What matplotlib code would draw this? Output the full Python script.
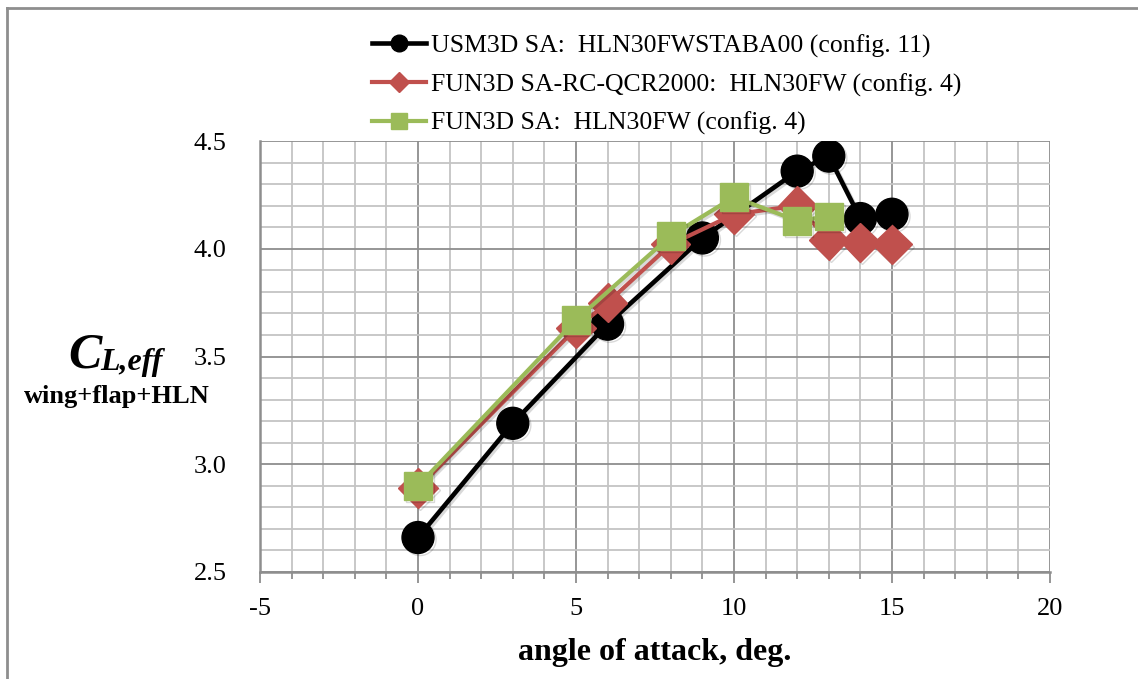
import matplotlib
matplotlib.use("Agg")
import matplotlib.pyplot as plt
import matplotlib.patheffects as pe
from matplotlib.lines import Line2D
from matplotlib.ticker import MultipleLocator

# lift coefficient vs angle of attack
usm3d_alpha = [0, 3, 6, 9, 12, 13, 14, 15]
usm3d_cl = [2.66, 3.19, 3.65, 4.05, 4.36, 4.43, 4.14, 4.16]

qcr_alpha = [0, 5, 6, 8, 10, 12, 13, 14, 15]
qcr_cl = [2.89, 3.63, 3.75, 4.02, 4.16, 4.20, 4.04, 4.03, 4.02]

sa_alpha = [0, 5, 8, 10, 12, 13]
sa_cl = [2.90, 3.67, 4.06, 4.24, 4.13, 4.15]

labels = [
    "USM3D SA:  HLN30FWSTABA00 (config. 11)",
    "FUN3D SA-RC-QCR2000:  HLN30FW (config. 4)",
    "FUN3D SA:  HLN30FW (config. 4)",
]

plt.rcParams['font.family'] = ['Liberation Serif', 'DejaVu Serif']
plt.rcParams['axes.unicode_minus'] = False

fig = plt.figure(figsize=(11.38, 6.79), dpi=100)
ax = fig.add_axes([260 / 1138, 1 - 572 / 679, 790 / 1138, 431 / 679])

shadow = [pe.SimpleLineShadow(offset=(1.5, -1.5), alpha=0.15), pe.Normal()]

ax.plot(usm3d_alpha, usm3d_cl, color='black', lw=3.3, marker='o', ms=23,
        zorder=3, path_effects=shadow)
ax.plot(qcr_alpha, qcr_cl, color='#c0504d', lw=3, marker='D', ms=20,
        zorder=4, path_effects=shadow)
ax.plot(sa_alpha, sa_cl, color='#9bbb59', lw=3, marker='s', ms=20,
        zorder=5, path_effects=shadow)

ax.set_xlim(-5, 20)
ax.set_ylim(2.5, 4.5)
ax.xaxis.set_major_locator(MultipleLocator(5))
ax.xaxis.set_minor_locator(MultipleLocator(1))
ax.yaxis.set_major_locator(MultipleLocator(0.5))
ax.yaxis.set_minor_locator(MultipleLocator(0.1))
ax.set_yticks([2.5, 3.0, 3.5, 4.0, 4.5])
ax.set_yticklabels(["2.5", "3.0", "3.5", "4.0", "4.5"])

ax.grid(which='minor', color='#c4c4c4', lw=1.3)
ax.grid(which='major', color='#8e8e8e', lw=1.3)
ax.set_axisbelow(True)

for side in ['top', 'right']:
    ax.spines[side].set_visible(False)
ax.spines['left'].set_color('#8e8e8e')
ax.spines['bottom'].set_color('#8e8e8e')
ax.spines['left'].set_linewidth(1.8)
ax.spines['bottom'].set_linewidth(1.8)

ax.tick_params(axis='x', which='both', direction='out', color='#8e8e8e',
               width=1.3, labelsize=19, pad=11)
ax.tick_params(axis='x', which='major', length=8)
ax.tick_params(axis='x', which='minor', length=5)
ax.tick_params(axis='y', which='both', length=0, labelsize=19, pad=24)

ax.set_xlabel("angle of attack, deg.", fontsize=23, fontweight='bold',
              labelpad=13)

fig.text(68 / 1138, 1 - 368 / 679, "C", fontsize=36, fontweight='bold',
         fontstyle='italic', ha='left', va='baseline')
fig.text(100 / 1138, 1 - 370 / 679, "L,eff", fontsize=23, fontweight='bold',
         fontstyle='italic', ha='left', va='baseline')
fig.text(117 / 1138, 1 - 396 / 679, "wing+flap+HLN", fontsize=19,
         fontweight='bold', ha='center', va='center')

handles = [
    Line2D([], [], color='black', lw=3.3, marker='o', ms=12),
    Line2D([], [], color='#c0504d', lw=3, marker='D', ms=10),
    Line2D([], [], color='#9bbb59', lw=3, marker='s', ms=11),
]
fig.legend(handles, labels, loc='upper left',
           bbox_to_anchor=(362 / 1138, 1 - 24 / 679), frameon=False,
           fontsize=18.5, handlelength=2.1, handletextpad=0.2,
           labelspacing=0.6, borderaxespad=0)

# outer frame along the top and left edges
fig.add_artist(Line2D([7 / 1138, 7 / 1138], [0, 1 - 8 / 679],
                      transform=fig.transFigure, color='#8e8e8e', lw=2))
fig.add_artist(Line2D([7 / 1138, 1], [1 - 8 / 679, 1 - 8 / 679],
                      transform=fig.transFigure, color='#8e8e8e', lw=2))

fig.savefig("out.png", dpi=100)
